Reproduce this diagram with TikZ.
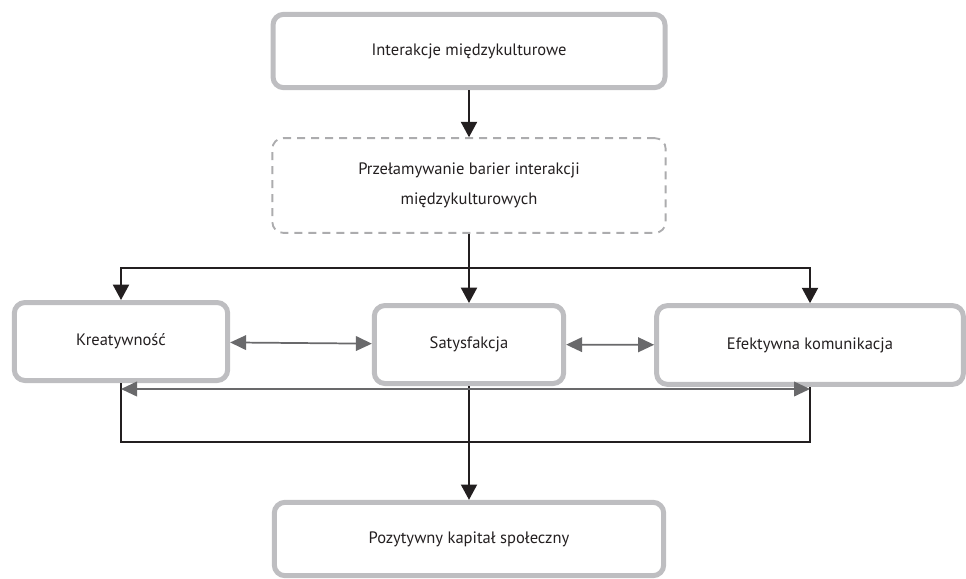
\documentclass[tikz,border=0pt]{standalone}
\usepackage{fontspec}
\setmainfont{PT Sans}
\usetikzlibrary{arrows.meta,calc}

\definecolor{boxgray}{RGB}{190,190,193}
\definecolor{dashgray}{RGB}{172,172,174}
\definecolor{linkgray}{RGB}{105,105,107}
\definecolor{textdark}{RGB}{35,31,32}

\tikzset{
  box/.style={draw=boxgray, line width=3.75pt, rounded corners=8pt, align=center,
    text=textdark, font=\fontsize{12.4}{22.5}\selectfont},
  dbox/.style={box, draw=dashgray, line width=1.4pt, dash pattern=on 6pt off 4.5pt},
  wire/.style={line width=1.5pt, draw=textdark},
  flow/.style={wire, -{Triangle[width=12pt,length=11.5pt]}},
  link/.style={line width=1.3pt, draw=linkgray,
    {Triangle[width=11pt,length=12pt]}-{Triangle[width=11pt,length=12pt]}},
}

\begin{document}
\begin{tikzpicture}[x=0.75pt,y=-0.75pt]
  \useasboundingbox (0,0) rectangle (966,578);

  % boxes
  \node[box, minimum width=294pt, minimum height=55pt] (inter) at (469,51) {Interakcje międzykulturowe};
  \node[dbox, minimum width=295pt, minimum height=71pt] (bariery) at (469,185.5) {Przełamywanie barier interakcji\\międzykulturowych};
  \node[box, minimum width=160pt, minimum height=58.5pt] (kreat) at (121,341.5) {Kreatywność};
  \node[box, minimum width=142pt, minimum height=58.5pt] (satys) at (469,344.5) {Satysfakcja};
  \node[box, minimum width=230pt, minimum height=59pt] (efekt) at (810,345) {Efektywna komunikacja};
  \node[box, minimum width=292pt, minimum height=55pt] (kapital) at (469,539) {Pozytywny kapitał społeczny};

  % split and merge points
  \coordinate (split) at (469,268);
  \coordinate (merge) at (469,442);
  \coordinate (gl) at ($(kreat.south)+(0,6)$);
  \coordinate (gr) at (gl -| efekt.south);

  % connectors
  \draw[flow] (inter) -- (bariery);
  \draw[wire] (bariery) -- (split);
  \draw[flow] (split) -| (kreat);
  \draw[flow] (split) -| (efekt);
  \draw[flow] (split) -- (satys);
  \draw[wire] (kreat.south) |- (merge) -| (efekt.south);
  \draw[flow] (satys) -- (kapital);
  \draw[link] (kreat) -- (satys);
  \draw[link] (satys) -- (efekt);
  \draw[link] (gl) -- (gr);
\end{tikzpicture}
\end{document}
